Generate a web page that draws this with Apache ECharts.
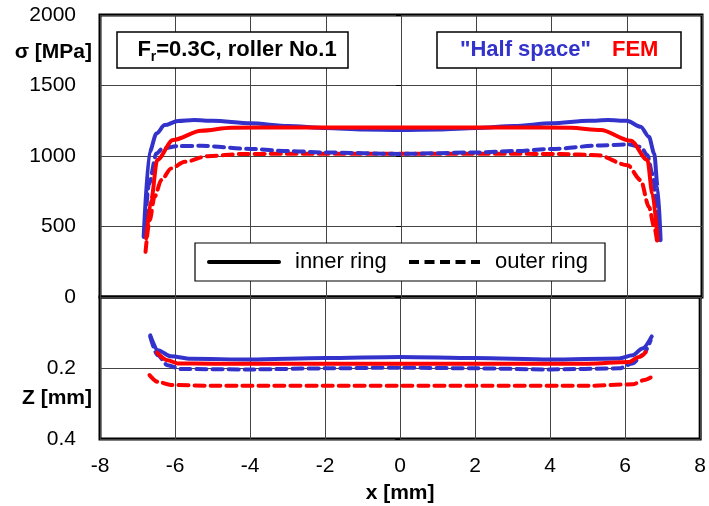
<!DOCTYPE html>
<html>
<head>
<meta charset="utf-8">
<script src="https://cdn.jsdelivr.net/npm/echarts@6/dist/echarts.min.js"></script>
<style>html,body{margin:0;padding:0;background:#fff}#c{width:709px;height:506px}</style>
</head>
<body>
<div id="c"></div>
<script>
// x tick values
var xTicks = [-8, -6, -4, -2, 0, 2, 4, 6, 8];
var sigmaTicks = [0, 500, 1000, 1500, 2000];
var zTicks = [0, 0.2, 0.4];

// Stress sigma [MPa] — "Half space" (blue), inner ring
var hsInnerSigmaX = [-6.84, -6.68, -6.5, -6.28, -5.93, -5.5, -5, -4, -3, -2, -1, 0, 1, 2, 3, 4, 5, 5.5, 6.0, 6.37, 6.59, 6.73, 6.82, 6.9];
var hsInnerSigma  = [426, 1030, 1160, 1219, 1248, 1255, 1250, 1232, 1212, 1198, 1188, 1185, 1188, 1198, 1212, 1232, 1250, 1255, 1250, 1207, 1136, 1018, 781, 403];
// FEM (red), inner ring
var femInnerSigmaX = [-6.77, -6.64, -6.48, -6.06, -5.31, -4.51, -3, -2, 0, 2, 3, 4.51, 5.31, 6.11, 6.55, 6.68, 6.82];
var femInnerSigma  = [416, 687, 971, 1113, 1179, 1200, 1203, 1203, 1203, 1203, 1203, 1200, 1184, 1108, 971, 734, 403];
// "Half space", outer ring
var hsOuterSigmaX = [-6.82, -6.7, -6.5, -6.33, -5.93, -5.31, -4, -3, -2, 0, 2, 3, 4, 5.31, 6.02, 6.37, 6.55, 6.68, 6.85];
var hsOuterSigma  = [430, 800, 1018, 1054, 1070, 1072, 1050, 1035, 1025, 1015, 1025, 1035, 1050, 1075, 1082, 1065, 1006, 876, 420];
// FEM, outer ring
var femOuterSigmaX = [-6.79, -6.68, -6.55, -6.37, -6.11, -5.75, -5.13, -4.25, -3, 0, 3, 4.25, 5.22, 6.02, 6.37, 6.59, 6.73, 6.82];
var femOuterSigma  = [320, 545, 710, 829, 912, 959, 999, 1014, 1016, 1016, 1016, 1014, 1006, 935, 829, 639, 497, 367];

// Depth Z [mm]
var hsInnerZX = [-6.66, -6.46, -6.11, -5.58, -4, -2, 0, 2, 4, 5.84, 6.2, 6.46, 6.71];
var hsInnerZ  = [0.108, 0.150, 0.167, 0.174, 0.176, 0.172, 0.169, 0.172, 0.176, 0.173, 0.164, 0.145, 0.111];
var femInnerZX = [-6.48, -6.2, -5.93, -5, 0, 5, 6.11, 6.37, 6.55];
var femInnerZ  = [0.157, 0.178, 0.187, 0.188, 0.188, 0.188, 0.183, 0.169, 0.155];
var hsOuterZX = [-6.66, -6.46, -6.2, -5.84, -4, -2, 0, 2, 4, 5.84, 6.2, 6.46, 6.68];
var hsOuterZ  = [0.112, 0.164, 0.192, 0.203, 0.204, 0.201, 0.199, 0.201, 0.204, 0.201, 0.187, 0.164, 0.122];
var femOuterZX = [-6.68, -6.46, -6.11, -5, 0, 5, 6.2, 6.51, 6.68];
var femOuterZ  = [0.220, 0.239, 0.248, 0.250, 0.250, 0.250, 0.246, 0.234, 0.227];

function pairs(xs, ys) { return xs.map(function (x, i) { return [x, ys[i]]; }); }

var BLUE = '#3333CC', RED = '#FF0000';
var FONT = 'Liberation Sans, Arial, sans-serif';
var DASH = [10, 6];

function mk(name, xs, ys, color, dashed, axisIdx) {
  return {
    name: name, type: 'line', xAxisIndex: axisIdx, yAxisIndex: axisIdx,
    data: pairs(xs, ys), showSymbol: false, symbol: 'none',
    smooth: 0.3, smoothMonotone: 'x',
    lineStyle: { color: color, width: 4, type: dashed ? DASH : 'solid', cap: 'round', join: 'round' },
    z: dashed ? 3 : 4, animation: false
  };
}

var chart = echarts.init(document.getElementById('c'), null, { renderer: 'canvas' });
var split = { show: true, lineStyle: { color: '#444', width: 1 } };
chart.setOption({
  animation: false,
  backgroundColor: '#fff',
  textStyle: { fontFamily: FONT },
  grid: [
    { left: 100, right: 7, top: 15, height: 282, show: true, borderColor: '#000', borderWidth: 3, backgroundColor: 'transparent', containLabel: false },
    { left: 100, right: 7, top: 297, height: 142, show: true, borderColor: '#000', borderWidth: 3, backgroundColor: 'transparent', containLabel: false }
  ],
  xAxis: [
    { type: 'value', gridIndex: 0, min: xTicks[0], max: xTicks[xTicks.length - 1], interval: 2,
      axisLine: { show: false }, axisTick: { show: false }, axisLabel: { show: false }, splitLine: split },
    { type: 'value', gridIndex: 1, min: xTicks[0], max: xTicks[xTicks.length - 1], interval: 2,
      axisLine: { show: false }, axisTick: { show: false },
      axisLabel: { show: true, fontSize: 21, color: '#000', fontFamily: FONT, margin: 17,
        formatter: function (v) { return String(v); } },
      splitLine: split,
      name: 'x [mm]', nameLocation: 'middle', nameGap: 44,
      nameTextStyle: { fontSize: 21, fontWeight: 'bold', color: '#000', fontFamily: FONT } }
  ],
  yAxis: [
    { type: 'value', gridIndex: 0, min: sigmaTicks[0], max: sigmaTicks[sigmaTicks.length - 1], interval: 500,
      axisLine: { show: false }, axisTick: { show: true, inside: false, length: 5, lineStyle: { color: '#000', width: 1 } },
      axisLabel: { fontSize: 21, color: '#000', fontFamily: FONT, margin: 24,
        formatter: function (v) { return String(v); } },
      splitLine: split },
    { type: 'value', gridIndex: 1, inverse: true, min: zTicks[0], max: zTicks[zTicks.length - 1], interval: 0.2,
      axisLine: { show: false }, axisTick: { show: true, inside: false, length: 5, lineStyle: { color: '#000', width: 1 } },
      axisLabel: { fontSize: 21, color: '#000', fontFamily: FONT, margin: 24,
        formatter: function (v) { return v === 0 ? '' : v.toFixed(1); } },
      splitLine: split }
  ],
  series: [
    mk('FEM outer σ', femOuterSigmaX, femOuterSigma, RED, true, 0),
    mk('HS outer σ', hsOuterSigmaX, hsOuterSigma, BLUE, true, 0),
    mk('HS inner σ', hsInnerSigmaX, hsInnerSigma, BLUE, false, 0),
    mk('FEM inner σ', femInnerSigmaX, femInnerSigma, RED, false, 0),
    mk('FEM outer Z', femOuterZX, femOuterZ, RED, true, 1),
    mk('HS outer Z', hsOuterZX, hsOuterZ, BLUE, true, 1),
    mk('HS inner Z', hsInnerZX, hsInnerZ, BLUE, false, 1),
    mk('FEM inner Z', femInnerZX, femInnerZ, RED, false, 1)
  ],
  graphic: [
    { type: 'text', x: 92, y: 52, z: 10,
      style: { text: 'σ [MPa]', fill: '#000', font: 'bold 21px ' + FONT, align: 'right', verticalAlign: 'middle' } },
    { type: 'text', x: 92, y: 398, z: 10,
      style: { text: 'Z [mm]', fill: '#000', font: 'bold 21px ' + FONT, align: 'right', verticalAlign: 'middle' } },
    // title box
    { type: 'rect', shape: { x: 117, y: 32, width: 231, height: 36 }, z: 10,
      style: { fill: '#fff', stroke: '#000', lineWidth: 1.5 } },
    { type: 'text', x: 237, y: 50, z: 11,
      style: { text: '{a|F}{b|r}{a|=0.3C, roller No.1}', align: 'center', verticalAlign: 'middle',
        rich: { a: { fontSize: 22, fontWeight: 'bold', fontFamily: FONT, fill: '#000' },
                b: { fontSize: 14, fontWeight: 'bold', fontFamily: FONT, fill: '#000', padding: [14, 0, 0, 0] } } } },
    // method legend box
    { type: 'rect', shape: { x: 437, y: 32, width: 244, height: 36 }, z: 10,
      style: { fill: '#fff', stroke: '#000', lineWidth: 1.5 } },
    { type: 'text', x: 460, y: 50, z: 11,
      style: { text: '"Half space"', fill: BLUE, font: 'bold 22px ' + FONT, align: 'left', verticalAlign: 'middle' } },
    { type: 'text', x: 612, y: 50, z: 11,
      style: { text: 'FEM', fill: RED, font: 'bold 22px ' + FONT, align: 'left', verticalAlign: 'middle' } },
    // ring legend box
    { type: 'rect', shape: { x: 195, y: 243, width: 410, height: 38 }, z: 10,
      style: { fill: '#fff', stroke: '#000', lineWidth: 1.2 } },
    { type: 'line', shape: { x1: 209, y1: 262, x2: 279, y2: 262 }, z: 11,
      style: { stroke: '#000', lineWidth: 4, lineCap: 'round' } },
    { type: 'text', x: 295, y: 262, z: 11,
      style: { text: 'inner ring', fill: '#000', font: '22px ' + FONT, align: 'left', verticalAlign: 'middle' } },
    { type: 'line', shape: { x1: 409, y1: 262, x2: 480, y2: 262 }, z: 11,
      style: { stroke: '#000', lineWidth: 4, lineDash: [10, 5.5], lineCap: 'butt' } },
    { type: 'text', x: 495, y: 262, z: 11,
      style: { text: 'outer ring', fill: '#000', font: '22px ' + FONT, align: 'left', verticalAlign: 'middle' } }
  ]
});
</script>
</body>
</html>
